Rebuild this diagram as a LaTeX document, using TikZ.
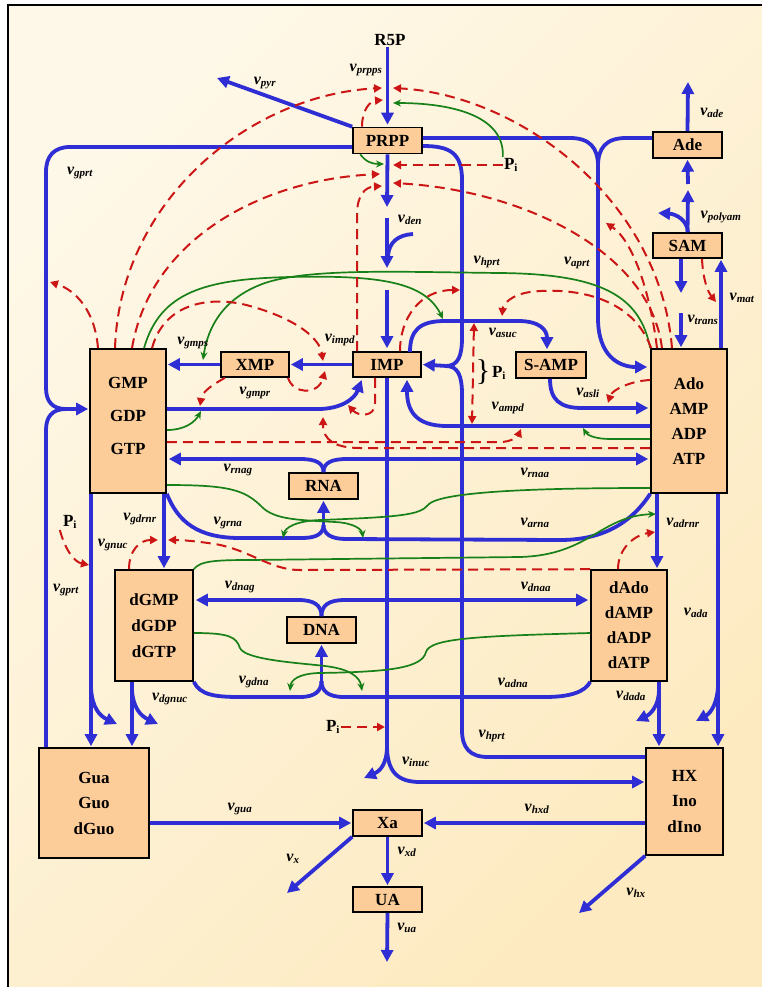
\documentclass[tikz,border=0pt]{standalone}
\usepackage{fontspec}
\setmainfont{Liberation Serif}
\usetikzlibrary{arrows.meta}
\definecolor{flowblue}{RGB}{46,46,212}
\definecolor{actgreen}{RGB}{24,128,24}
\definecolor{inhred}{RGB}{204,22,22}
\definecolor{boxfill}{RGB}{252,204,153}
\definecolor{bgA}{RGB}{254,248,232}
\definecolor{bgB}{RGB}{253,234,192}
\newcommand\rate[1]{\textbf{\textit{\fontsize{16}{16}\selectfont v\textsubscript{\fontsize{11}{11}\selectfont #1}}}}
\newcommand\Pinorg{\textbf{\fontsize{17}{17}\selectfont P\textsubscript{\fontsize{11}{11}\selectfont i}}}
\begin{document}
\begin{tikzpicture}[x=1pt,y=-1pt,
  box/.style={draw=black, line width=1.6pt, fill=boxfill, inner sep=0pt, align=center,
    font=\fontsize{17}{25}\selectfont\bfseries},
  flow/.style={draw=flowblue, line width=3.8pt},
  fa/.style={flow, -{Triangle[length=12pt,width=12pt]}},
  act/.style={draw=actgreen, line width=1.7pt, -{Stealth[length=8pt,width=7pt]}},
  inh/.style={draw=inhred, line width=2pt, dash pattern=on 10pt off 6pt, -{Triangle[length=8pt,width=8pt]}},
  lab/.style={inner sep=0pt},
  txt/.style={inner sep=1pt, font=\fontsize{17}{17}\selectfont\bfseries}]
\useasboundingbox (0,0) rectangle (762,987);
% background and frame
\fill[white] (0,0) rectangle (762,987);
\shade[top color=bgA, bottom color=bgB, shading angle=45] (8,5) rectangle (762,987);
\draw[line width=1.5pt] (8,987) -- (8,5) -- (762,5);

% ---------- metabolite boxes ----------
\node[box, minimum width=69pt, minimum height=26pt] (PRPP) at (387.5,140.5) {PRPP};
\node[box, minimum width=69pt, minimum height=26pt] (Ade) at (687.5,145) {Ade};
\node[box, minimum width=69pt, minimum height=25pt] (SAM) at (687.5,245.5) {SAM};
\node[box, minimum width=76pt, minimum height=144pt] (GMP) at (128,421) {};
\node[txt, align=center, font=\fontsize{17}{33}\selectfont\bfseries] (GMPtxt) at (128,416) {GMP\\GDP\\GTP};
\node[box, minimum width=68pt, minimum height=25pt] (XMP) at (255,364.5) {XMP};
\node[box, minimum width=68pt, minimum height=25pt] (IMP) at (387,364.5) {IMP};
\node[box, minimum width=70pt, minimum height=26pt] (SAMP) at (551,365) {S-AMP};
\node[box, minimum width=76pt, minimum height=144pt] (Ado) at (689,421) {Ado\\AMP\\ADP\\ATP};
\node[box, minimum width=69pt, minimum height=26pt] (RNA) at (323.5,486) {RNA};
\node[box, minimum width=78pt, minimum height=111pt, font=\fontsize{17}{26}\selectfont\bfseries] (dGMP) at (154,625.5) {dGMP\\dGDP\\dGTP};
\node[box, minimum width=69pt, minimum height=26pt] (DNA) at (321.5,630) {DNA};
\node[box, minimum width=76pt, minimum height=111pt] (dAdo) at (629,625.5) {dAdo\\dAMP\\dADP\\dATP};
\node[box, minimum width=110pt, minimum height=110pt, font=\fontsize{17}{25.5}\selectfont\bfseries] (Gua) at (94,803) {Gua\\Guo\\dGuo};
\node[box, minimum width=69pt, minimum height=26pt] (Xa) at (387.5,823) {Xa};
\node[box, minimum width=69pt, minimum height=25pt] (UA) at (387.5,899.5) {UA};
\node[box, minimum width=77pt, minimum height=107pt, font=\fontsize{17}{25.5}\selectfont\bfseries] (HX) at (684.5,801.5) {HX\\Ino\\dIno};

\node[txt] (R5P) at (390,40) {R5P};
\node[txt] (PiA) at (511,165) {\Pinorg};
\node[txt] (PiB) at (499,373) {\Pinorg};
\node[inner sep=0pt, font=\fontsize{30}{30}\selectfont] (brace) at (483,372) {\}};
\node[txt] (PiC) at (70,522) {\Pinorg};
\node[txt] (PiD) at (333,727) {\Pinorg};

% ---------- free ends ----------
\coordinate (pyrEnd) at (217,78);
\coordinate (adeEnd) at (688,82);
\coordinate (uaEnd) at (387,962);
\coordinate (xEnd) at (287,893);
\coordinate (hxEnd) at (579,913);

% ---------- main fluxes (blue) ----------
\draw[fa, shorten >=2pt] (R5P.south -| PRPP.north) -- (PRPP.north);
\draw[fa] (PRPP.north west) -- (pyrEnd);
\draw[fa] (PRPP.south) -- (387,207);
\draw[fa] (387,218) -- (387,268);
\draw[flow] (413,234) .. controls (398,235) and (389,242) .. (388,256);
\draw[fa, shorten >=3pt] (387,290) -- (IMP.north);
% PRPP + Ade -> AMP (aprt)
\draw[flow] (PRPP.east |- 0,138) -- (570,138) .. controls (590,138) and (598,148) .. (598,166);
\draw[flow] (Ade.west |- 0,138) -- (626,138) .. controls (606,138) and (598,148) .. (598,166);
\draw[fa, shorten >=3pt] (598,164) -- (598,318) .. controls (598,355) and (618,367) .. (Ado.west |- 0,367);
% PRPP + HX -> IMP (hprt)
\draw[flow] (PRPP.east |- 0,146) .. controls (450,146) and (462,153) .. (462,180) -- (462,338) .. controls (462,356) and (458,366) .. (446,366);
\draw[flow] (HX.west |- 0,757) -- (488,757) .. controls (470,757) and (462,748) .. (462,730) -- (462,394) .. controls (462,376) and (458,366) .. (446,366);
\draw[fa, shorten >=1pt] (447,366) -- (IMP.east);
% IMP -> S-AMP -> AMP, AMP -> IMP
\draw[fa, shorten >=2pt] (410,352) .. controls (410,330) and (420,321) .. (445,321) -- (518,321) .. controls (540,321) and (547,330) .. (SAMP.north -| 547,0);
\draw[fa, shorten >=2pt] (SAMP.south -| 550,0) .. controls (550,400) and (560,408) .. (582,408) -- (Ado.west |- 0,408);
\draw[fa, shorten >=2pt] (Ado.west |- 0,426) -- (447,426) .. controls (415,426) and (407,410) .. (IMP.south -| 407,0);
% IMP -> XMP -> GMP, GMP -> IMP
\draw[fa, shorten >=1pt] (IMP.west) -- (XMP.east);
\draw[fa, shorten >=1pt] (XMP.west) -- (GMP.east |- XMP.west);
\draw[fa, shorten >=1pt] (GMP.east |- 0,409) -- (318,409) .. controls (342,409) and (355,398) .. (362,379);
% RNA
\draw[fa, shorten >=2pt] (RNA.north) .. controls (323.5,463) and (316,459) .. (300,459) -- (GMP.east |- 0,459);
\draw[fa, shorten >=2pt] (RNA.north) .. controls (323.5,463) and (331,459) .. (347,459) -- (Ado.west |- 0,459);
\draw[flow] (GMP.south east) .. controls (178,522) and (198,538) .. (240,538) -- (302,538) .. controls (316,538) and (323.5,534) .. (323.5,525);
\draw[flow] (Ado.south west) .. controls (630,525) and (600,540) .. (560,540) -- (346,539) .. controls (331,539) and (323.5,534) .. (323.5,525);
\draw[fa, shorten >=1pt] (323.5,527) -- (RNA.south);
% reductions
\draw[fa, shorten >=1pt] (GMP.south -| 164,0) -- (dGMP.north -| 164,0);
\draw[fa, shorten >=1pt] (Ado.south -| 657,0) -- (dAdo.north -| 657,0);
% DNA
\draw[fa, shorten >=2pt] (DNA.north) .. controls (321.5,605) and (314,600) .. (298,600) -- (dGMP.east |- 0,600);
\draw[fa, shorten >=2pt] (DNA.north) .. controls (321.5,605) and (329,600) .. (345,600) -- (dAdo.west |- 0,600);
\draw[flow] (dGMP.south east) .. controls (200,695) and (215,697) .. (240,697) -- (300,697) .. controls (315,697) and (321.5,691) .. (321.5,681);
\draw[flow] (dAdo.south west) .. controls (585,692) and (570,697) .. (545,697) -- (344,697) .. controls (328,697) and (321.5,691) .. (321.5,681);
\draw[fa, shorten >=1pt] (321.5,683) -- (DNA.south);
% nucleotidases / deaminases
\draw[fa, shorten >=1pt] (GMP.south -| 91,0) -- (Gua.north -| 91,0);
\draw[fa] (91,688) .. controls (92,708) and (100,716) .. (117,724);
\draw[fa, shorten >=1pt] (dGMP.south -| 132,0) -- (Gua.north -| 132,0);
\draw[fa] (132,690) .. controls (133,708) and (141,716) .. (158,724);
\draw[fa, shorten >=1pt] (Ado.south -| 718,0) -- (HX.north -| 718,0);
\draw[fa] (718,684) .. controls (718,702) and (711,713) .. (696,721);
\draw[fa, shorten >=1pt] (dAdo.south -| 659,0) -- (HX.north -| 659,0);
\draw[fa] (659,690) .. controls (659,705) and (651,714) .. (636,721);
% Gua + PRPP -> GMP (gprt)
\draw[flow] (PRPP.west |- 0,147) -- (70,147) .. controls (54,147) and (46,156) .. (46,172) -- (46,388) .. controls (46,401) and (52,409) .. (66,409);
\draw[flow] (Gua.north -| 46,0) -- (46,430) .. controls (46,417) and (52,409) .. (66,409);
\draw[fa, shorten >=1pt] (65,409) -- (GMP.west |- 0,409);
% IMP -> Ino
\draw[flow] (IMP.south) -- (387,750);
\draw[fa] (387,746) .. controls (387,764) and (380,771) .. (364,778);
\draw[fa, shorten >=1pt] (387,746) .. controls (387,772) and (398,782) .. (420,782) -- (HX.west |- 0,782);
% degradation
\draw[fa, shorten >=1pt] (Gua.east |- Xa.west) -- (Xa.west);
\draw[fa, shorten >=1pt] (HX.west |- Xa.east) -- (Xa.east);
\draw[fa] (Xa.south west) -- (xEnd);
\draw[fa, shorten >=1pt] (Xa.south) -- (UA.north);
\draw[fa] (UA.south) -- (uaEnd);
\draw[fa] (HX.south west) -- (hxEnd);
% adenine / SAM
\draw[fa] (Ade.north) -- (adeEnd);
\draw[fa, shorten >=1pt] (688,184) -- (Ade.south);
\draw[fa] (SAM.north) -- (688,190);
\draw[fa] (688,232) .. controls (687,220) and (676,214) .. (658,213);
\draw[fa] (SAM.south -| 681,0) -- (681,293);
\draw[fa, shorten >=1pt] (681,313) -- (Ado.north -| 681,0);
\draw[fa, shorten >=1pt] (Ado.north -| 721,0) -- (SAM.south -| 721,0);

% ---------- activations (green) ----------
\draw[act] (PiA.north west) .. controls (505,115) and (450,103) .. (393,103);
\draw[act] (PRPP.south west) ++(8,0) .. controls (366,162) and (372,164) .. (384,164);
\draw[act] (GMP.north -| 144,0) .. controls (160,292) and (205,279) .. (290,277) .. controls (380,275) and (425,282) .. (443,319);
\draw[act] (Ado.north west) .. controls (640,295) and (600,274) .. (500,273) .. controls (400,272) and (310,268) .. (265,283) .. controls (225,297) and (208,325) .. (203,360);
\draw[act] (GMP.east |- 0,430) .. controls (185,430) and (195,422) .. (201,411);
\draw[act] (Ado.west |- 0,439) -- (610,439) .. controls (595,439) and (587,435) .. (583,428);
\draw[act] (GMP.east |- 0,485) .. controls (230,485) and (245,490) .. (262,507) .. controls (275,520) and (300,520) .. (335,522) .. controls (355,523) and (362,530) .. (363,538);
\draw[act] (Ado.west |- 0,488) .. controls (560,488) and (440,490) .. (428,505) .. controls (420,515) and (400,517) .. (320,520) .. controls (295,521) and (285,528) .. (283,538);
\draw[act] (dGMP.north east) .. controls (200,561) and (215,560) .. (250,560) -- (520,557) .. controls (590,555) and (600,516) .. (656,514);
\draw[act] (dGMP.east |- 0,633) .. controls (230,633) and (236,637) .. (240,648) .. controls (245,660) and (300,663) .. (325,666) .. controls (350,669) and (360,677) .. (362,691);
\draw[act] (dAdo.west |- 0,633) .. controls (480,636) and (430,638) .. (426,652) .. controls (422,668) and (390,672) .. (318,673) .. controls (298,674) and (291,680) .. (290,691);

% ---------- inhibitions (red dashed) ----------
\draw[inh] (GMP.north -| 115,0) .. controls (120,200) and (250,95) .. (382,88);
\draw[inh] (Ado.north -| 672,0) .. controls (660,200) and (520,95) .. (393,88);
\draw[inh] (GMP.north -| 132,0) .. controls (150,240) and (260,180) .. (380,174);
\draw[inh] (Ado.north -| 662,0) .. controls (650,250) and (520,190) .. (393,183);
\draw[inh] (IMP.north -| 357,0) -- (357,215) .. controls (357,195) and (365,187) .. (382,186);
\draw[inh] (PRPP.north -| 362,0) .. controls (362,110) and (370,101) .. (383,100);
\draw[inh] (PiA.west) -- (393,165);
\draw[inh] (GMP.north -| 98,0) .. controls (95,310) and (75,290) .. (50,282);
\draw[inh] (GMP.north -| 152,0) .. controls (165,300) and (215,296) .. (250,306) .. controls (300,320) and (320,340) .. (323,361);
\draw[inh] (XMP.south -| 288,0) .. controls (293,394) and (318,396) .. (325,371);
\draw[inh] (XMP.south -| 225,0) .. controls (212,385) and (202,392) .. (200,406);
\draw[inh] (IMP.south -| 375,0) -- (375,403) .. controls (375,418) and (358,416) .. (348,405);
\draw[inh] (IMP.north -| 400,0) .. controls (400,318) and (420,290) .. (460,290);
\draw[inh] (Ado.north west) ++(1,0) .. controls (630,290) and (560,288) .. (530,292) .. controls (510,295) and (503,305) .. (502,316);
\draw[inh, {Triangle[length=8pt,width=8pt]}-{Triangle[length=8pt,width=8pt]}] (474,323) -- (472,424);
\draw[inh] (Ado.north -| 657,0) .. controls (650,290) and (632,240) .. (606,223);
\draw[inh] (SAM.south -| 702,0) .. controls (703,280) and (708,292) .. (716,302);
\draw[inh] (Ado.west |- 0,448) -- (360,448) .. controls (335,448) and (323,440) .. (323,417);
\draw[inh] (GMP.east |- 0,442) -- (500,442) .. controls (512,442) and (518,436) .. (521,429);
\draw[inh] (Ado.west |- 0,380) .. controls (630,381) and (612,390) .. (608,403);
\draw[inh] (PiC.south west) ++(-2,0) .. controls (66,552) and (75,562) .. (89,565);
\draw[inh] (dGMP.north -| 129,0) .. controls (129,550) and (140,540) .. (158,540);
\draw[inh] (dAdo.north west) -- (300,570) .. controls (270,570) and (250,550) .. (215,544) .. controls (195,541) and (182,540) .. (168,540);
\draw[inh] (dAdo.north -| 618,0) .. controls (618,548) and (635,535) .. (655,532);
\draw[inh] (PiD.east) -- (385,727);

% ---------- rate labels ----------
\node[lab] (l1) at (366,70) {\rate{prpps}};
\node[lab] (l2) at (265,83) {\rate{pyr}};
\node[lab] (l3) at (80,173) {\rate{gprt}};
\node[lab] (l4) at (410,220) {\rate{den}};
\node[lab] (l5) at (487,262) {\rate{hprt}};
\node[lab] (l6) at (577,263) {\rate{aprt}};
\node[lab] (l7) at (712,113) {\rate{ade}};
\node[lab] (l8) at (721,217) {\rate{polyam}};
\node[lab] (l9) at (742,298) {\rate{mat}};
\node[lab] (l10) at (703,320) {\rate{trans}};
\node[lab] (l11) at (503,333) {\rate{asuc}};
\node[lab] (l12) at (193,343) {\rate{gmps}};
\node[lab] (l13) at (340,340) {\rate{impd}};
\node[lab] (l14) at (255,393) {\rate{gmpr}};
\node[lab] (l15) at (588,393) {\rate{asli}};
\node[lab] (l16) at (508,408) {\rate{ampd}};
\node[lab] (l17) at (238,470) {\rate{rnag}};
\node[lab] (l18) at (535,473) {\rate{rnaa}};
\node[lab] (l19) at (228,523) {\rate{grna}};
\node[lab] (l20) at (535,523) {\rate{arna}};
\node[lab] (l21) at (140,519) {\rate{gdrnr}};
\node[lab] (l22) at (683,523) {\rate{adrnr}};
\node[lab] (l23) at (113,545) {\rate{gnuc}};
\node[lab] (l24) at (66,590) {\rate{gprt}};
\node[lab] (l25) at (240,587) {\rate{dnag}};
\node[lab] (l26) at (536,587) {\rate{dnaa}};
\node[lab] (l27) at (696,613) {\rate{ada}};
\node[lab] (l28) at (254,682) {\rate{gdna}};
\node[lab] (l29) at (513,683) {\rate{adna}};
\node[lab] (l30) at (170,699) {\rate{dgnuc}};
\node[lab] (l31) at (631,696) {\rate{dada}};
\node[lab] (l32) at (492,736) {\rate{hprt}};
\node[lab] (l33) at (416,762) {\rate{inuc}};
\node[lab] (l34) at (240,809) {\rate{gua}};
\node[lab] (l35) at (537,809) {\rate{hxd}};
\node[lab] (l36) at (293,859) {\rate{x}};
\node[lab] (l37) at (407,852) {\rate{xd}};
\node[lab] (l38) at (407,928) {\rate{ua}};
\node[lab] (l39) at (636,893) {\rate{hx}};
\end{tikzpicture}
\end{document}
